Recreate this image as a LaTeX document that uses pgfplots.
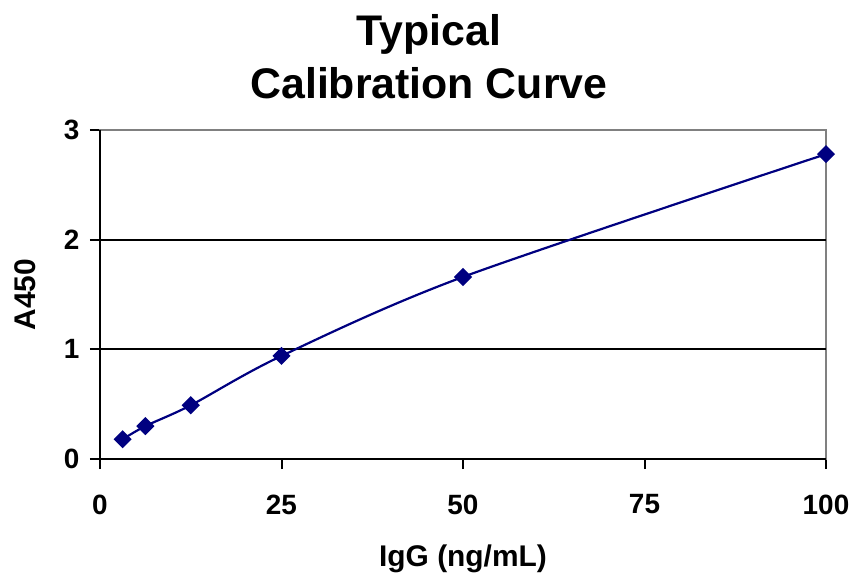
\documentclass[border=0pt]{standalone}
\usepackage{fontspec}
\setmainfont{Liberation Sans}
\usepackage{pgfplots}
\pgfplotsset{compat=1.18}
\definecolor{navy}{RGB}{0,0,128}
\definecolor{framegray}{RGB}{128,128,128}
\begin{document}
\begin{tikzpicture}
\begin{axis}[
  name=ax,
  scale only axis,
  width=726bp, height=329bp,
  xmin=0, xmax=100, ymin=0, ymax=3,
  xtick={0,25,50,75,100},
  ytick={0,1,2,3},
  xtick pos=bottom, ytick pos=left,
  tick align=outside,
  major tick length=10bp,
  tick style={black, line width=2bp},
  axis line style={framegray, line width=2bp},
  extra y ticks={1,2},
  extra y tick labels={},
  extra y tick style={grid=major, major tick length=0pt},
  major grid style={black, line width=2bp},
  /pgf/number format/assume math mode=true,
  tick label style={font=\bfseries\fontsize{28}{30}\selectfont},
  yticklabel style={xshift=-7bp},
  xticklabel style={yshift=-22bp},
  xlabel={IgG (ng/mL)},
  ylabel={A450},
  label style={font=\bfseries\fontsize{30}{32}\selectfont},
  xlabel style={at={(axis description cs:0.5,-0.326)}, anchor=base},
  ylabel style={at={(axis description cs:-0.1033,0.5)}, anchor=center},
  clip=false,
]
% black left and bottom lines, the rest of the frame stays gray
\draw[black, line width=2bp] (rel axis cs:0,1) -- (rel axis cs:0,0) -- (rel axis cs:1,0);

\addplot[navy, line width=2.2bp, smooth, mark=square*, mark size=5.3bp,
  mark options={rotate=45, solid, fill=navy}] coordinates {
  (3.125,0.18) (6.25,0.30) (12.5,0.49) (25,0.94) (50,1.66) (100,2.78)
};

\node[anchor=base, font=\bfseries\fontsize{43}{52}\selectfont]
  at (rel axis cs:0.453,1.258) {Typical};
\node[anchor=base, font=\bfseries\fontsize{43}{52}\selectfont]
  at (rel axis cs:0.453,1.097) {Calibration Curve};
\end{axis}
\pgfresetboundingbox
\path[use as bounding box] (ax.south west) ++(-100bp,-116bp) rectangle ++(855bp,575bp);
\end{tikzpicture}
\end{document}
